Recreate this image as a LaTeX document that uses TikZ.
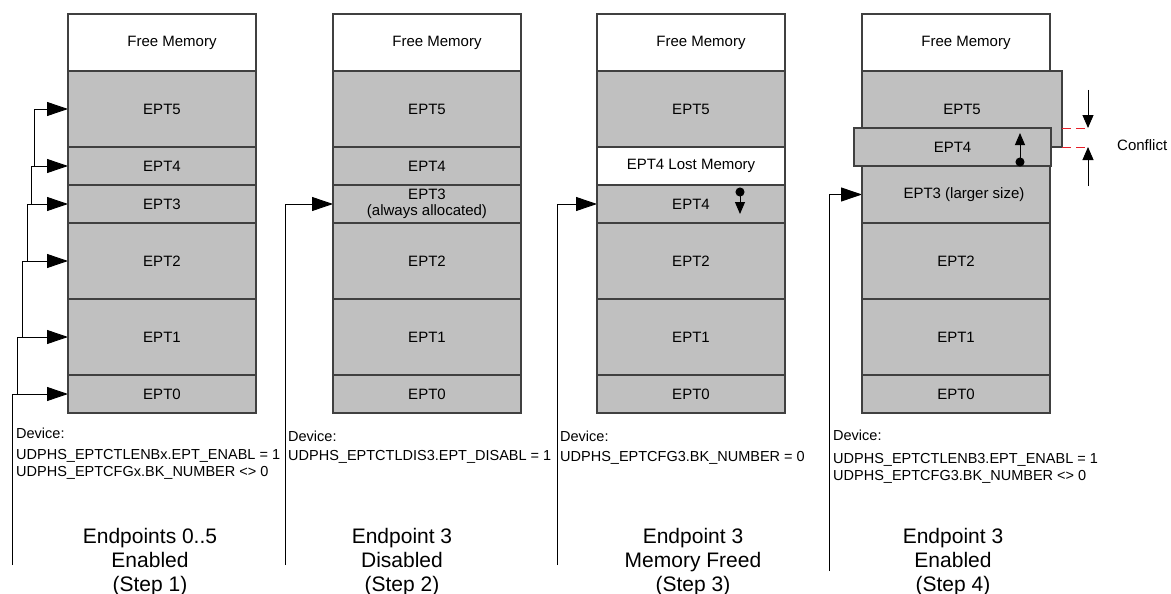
\documentclass[tikz,border=0pt]{standalone}
\usepackage{fontspec}
\setmainfont{Liberation Sans}
\usetikzlibrary{arrows.meta}
\pgfdeclarelayer{edgelayer}
\pgfdeclarelayer{nodelayer}
\pgfsetlayers{edgelayer,nodelayer,main}
\definecolor{eptgray}{HTML}{C0C0C0}
\definecolor{boxline}{HTML}{404040}
\definecolor{conflictred}{HTML}{E8202A}
\newcommand{\boxfont}{\fontsize{15}{17}\selectfont}
\newcommand{\devfont}{\fontsize{14.5}{17}\selectfont}
\newcommand{\stepfont}{\fontsize{21}{24}\selectfont}
\tikzstyle{ept}=[draw=boxline, fill=eptgray, line width=1.2pt, anchor=north west, minimum width=188pt, inner sep=0pt, outer sep=0pt, font=\boxfont]
\tikzstyle{free}=[ept, fill=white]
\tikzstyle{toprow}=[minimum height=57pt]
\tikzstyle{tallrow}=[minimum height=76pt]
\tikzstyle{shortrow}=[minimum height=38pt]
\tikzstyle{feedarrow}=[draw=black, line width=0.9pt, -{Triangle[length=21pt, width=14pt]}]
\tikzstyle{shiftarrow}=[draw=black, line width=0.9pt, {Circle[length=9pt]}-{Triangle[length=12pt, width=10pt]}]
\tikzstyle{conflictarrow}=[draw=black, line width=0.9pt, -{Triangle[length=13pt, width=11pt]}]
\tikzstyle{clash}=[draw=conflictred, line width=0.8pt, dash pattern=on 9pt off 5pt]
\tikzstyle{device}=[anchor=north west, align=left, inner sep=0pt, font=\devfont]
\tikzstyle{steptext}=[align=center, inner sep=0pt, font=\stepfont]

\begin{document}
\begin{tikzpicture}[x=1pt, y=-1pt]
	\useasboundingbox (0,0) rectangle (1171,594);
	\begin{pgfonlayer}{nodelayer}
		% step 1
		\node [style=free, toprow] (c1f) at (68, 14) {\hspace*{20pt}Free Memory};
		\node [style=ept, tallrow] (c1e5) at (68, 71) {EPT5};
		\node [style=ept, shortrow] (c1e4) at (68, 147) {EPT4};
		\node [style=ept, shortrow] (c1e3) at (68, 185) {EPT3};
		\node [style=ept, tallrow] (c1e2) at (68, 223) {EPT2};
		\node [style=ept, tallrow] (c1e1) at (68, 299) {EPT1};
		\node [style=ept, shortrow] (c1e0) at (68, 375) {EPT0};
		% step 2
		\node [style=free, toprow] (c2f) at (333, 14) {\hspace*{20pt}Free Memory};
		\node [style=ept, tallrow] (c2e5) at (333, 71) {EPT5};
		\node [style=ept, shortrow] (c2e4) at (333, 147) {EPT4};
		\node [style=ept, shortrow, align=center] (c2e3) at (333, 185) {EPT3\\[-1pt](always allocated)};
		\node [style=ept, tallrow] (c2e2) at (333, 223) {EPT2};
		\node [style=ept, tallrow] (c2e1) at (333, 299) {EPT1};
		\node [style=ept, shortrow] (c2e0) at (333, 375) {EPT0};
		% step 3
		\node [style=free, toprow] (c3f) at (597, 14) {\hspace*{20pt}Free Memory};
		\node [style=ept, tallrow] (c3e5) at (597, 71) {EPT5};
		\node [style=free, shortrow] (c3lost) at (597, 147) {EPT4 Lost Memory};
		\node [style=ept, shortrow] (c3e4) at (597, 185) {EPT4};
		\node [style=ept, tallrow] (c3e2) at (597, 223) {EPT2};
		\node [style=ept, tallrow] (c3e1) at (597, 299) {EPT1};
		\node [style=ept, shortrow] (c3e0) at (597, 375) {EPT0};
		% step 4
		\node [style=free, toprow] (c4f) at (862, 14) {\hspace*{20pt}Free Memory};
		\node [style=ept, tallrow, minimum width=200pt] (c4e5) at (862, 71) {EPT5};
		\node [style=ept, minimum height=57pt] (c4e3) at (862, 166) {\hspace*{16pt}EPT3 (larger size)};
		\node [style=ept, tallrow] (c4e2) at (862, 223) {EPT2};
		\node [style=ept, tallrow] (c4e1) at (862, 299) {EPT1};
		\node [style=ept, shortrow] (c4e0) at (862, 375) {EPT0};
		\node [style=ept, shortrow, minimum width=197pt] (c4e4) at (854, 128) {EPT4};
	\end{pgfonlayer}
	\begin{pgfonlayer}{edgelayer}
		\coordinate (s0) at (12, 565);
		\coordinate (s1) at (17, 394);
		\coordinate (s2) at (22, 337);
		\coordinate (s3) at (27, 261);
		\coordinate (s4) at (31, 204);
		\coordinate (s5) at (34, 166);
		\draw [style=feedarrow] (s0) |- (c1e0.west);
		\draw [style=feedarrow] (s1) |- (c1e1.west);
		\draw [style=feedarrow] (s2) |- (c1e2.west);
		\draw [style=feedarrow] (s3) |- (c1e3.west);
		\draw [style=feedarrow] (s4) |- (c1e4.west);
		\draw [style=feedarrow] (s5) |- (c1e5.west);
		\coordinate (s6) at (285, 565);
		\coordinate (s7) at (557, 565);
		\coordinate (s8) at (829, 571);
		\draw [style=feedarrow] (s6) |- (c2e3.west);
		\draw [style=feedarrow] (s7) |- (c3e4.west);
		\draw [style=feedarrow] (s8) |- (c4e3.west);
	\end{pgfonlayer}
	% moves and conflict
	\coordinate (m1) at (740, 187.5);
	\coordinate (m2) at (740, 214);
	\coordinate (m3) at (1020, 166.5);
	\coordinate (m4) at (1020, 133);
	\draw [style=shiftarrow] (m1) -- (m2);
	\draw [style=shiftarrow] (m3) -- (m4);
	\coordinate (k1) at (1088, 128);
	\coordinate (k1s) at (1088, 90);
	\coordinate (k2) at (1088, 147);
	\coordinate (k2s) at (1088, 186);
	\draw [style=clash] (c4e5.east |- k1) -- (k1);
	\draw [style=clash] (c4e5.south east) -- (k2);
	\draw [style=conflictarrow] (k1s) -- (k1);
	\draw [style=conflictarrow] (k2s) -- (k2);
	\node [anchor=west, inner sep=0pt, font=\boxfont] (conflict) at (1117, 145) {Conflict};
	% device registers
	\node [style=device] (c1dev) at (16, 428) {Device:\\[4pt]UDPHS\_EPTCTLENBx.EPT\_ENABL = 1\\UDPHS\_EPTCFGx.BK\_NUMBER <> 0};
	\node [style=device] (c2dev) at (288, 431) {Device:\\[2pt]UDPHS\_EPTCTLDIS3.EPT\_DISABL = 1};
	\node [style=device] (c3dev) at (560, 431) {Device:\\[3pt]UDPHS\_EPTCFG3.BK\_NUMBER = 0};
	\node [style=device] (c4dev) at (833, 430) {Device:\\[6pt]UDPHS\_EPTCTLENB3.EPT\_ENABL = 1\\UDPHS\_EPTCFG3.BK\_NUMBER <> 0};
	% steps
	\node [style=steptext] (c1step) at (150, 562.5) {Endpoints 0..5\\Enabled\\(Step 1)};
	\node [style=steptext] (c2step) at (402, 562.5) {Endpoint 3\\Disabled\\(Step 2)};
	\node [style=steptext] (c3step) at (693, 562.5) {Endpoint 3\\Memory Freed\\(Step 3)};
	\node [style=steptext] (c4step) at (953, 562.5) {Endpoint 3\\Enabled\\(Step 4)};
\end{tikzpicture}
\end{document}
